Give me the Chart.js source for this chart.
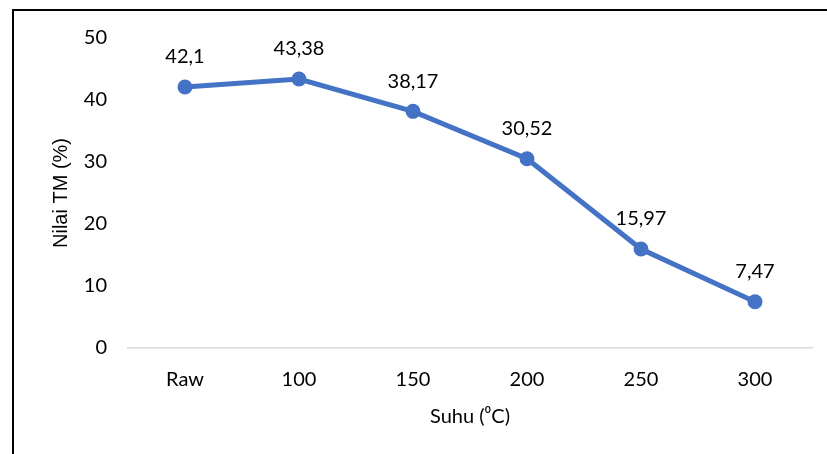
<!DOCTYPE html>
<html>
<head>
<meta charset="utf-8">
<script src="https://cdn.jsdelivr.net/npm/chart.js@4/dist/chart.umd.min.js"></script>
<style>
  html, body { margin: 0; padding: 0; background: #ffffff; }
  #wrap { width: 827px; height: 454px; }
</style>
</head>
<body>
<div id="wrap"><canvas id="c" width="827" height="454"></canvas></div>
<script>
// Suhu pemanasan dan nilai TM
const categories = ['Raw', '100', '150', '200', '250', '300'];
const nilaiTM = [42.1, 43.38, 38.17, 30.52, 15.97, 7.47];
const yTicks = [0, 10, 20, 30, 40, 50];

const BLUE = '#4472C4';
const TICK_FONT = { family: 'Lato, "Open Sans", sans-serif', size: 20 };

// Frame lines on the top and left edges
const framePlugin = {
  id: 'frame',
  beforeDraw(chart) {
    const ctx = chart.ctx;
    ctx.save();
    ctx.fillStyle = '#ffffff';
    ctx.fillRect(0, 0, chart.width, chart.height);
    ctx.strokeStyle = '#000000';
    ctx.lineWidth = 2;
    ctx.beginPath();
    ctx.moveTo(13, chart.height);
    ctx.lineTo(13, 10);
    ctx.lineTo(chart.width, 10);
    ctx.stroke();
    ctx.restore();
  }
};

// Value labels above each point, formatted with a decimal comma
const valueLabels = {
  id: 'valueLabels',
  afterDatasetsDraw(chart) {
    const ctx = chart.ctx;
    const meta = chart.getDatasetMeta(0);
    const data = chart.data.datasets[0].data;
    ctx.save();
    ctx.font = '20px Lato, "Open Sans", sans-serif';
    ctx.fillStyle = '#000000';
    ctx.textAlign = 'center';
    ctx.textBaseline = 'middle';
    meta.data.forEach((pt, i) => {
      const txt = String(data[i]).replace('.', ',');
      ctx.fillText(txt, pt.x, pt.y - 30);
    });
    ctx.restore();
  }
};

new Chart(document.getElementById('c'), {
  type: 'line',
  data: {
    labels: categories,
    datasets: [{
      data: nilaiTM,
      borderColor: BLUE,
      backgroundColor: BLUE,
      borderWidth: 5,
      pointRadius: 7.5,
      pointHoverRadius: 7.5,
      pointBackgroundColor: BLUE,
      pointBorderColor: BLUE,
      pointBorderWidth: 0,
      tension: 0,
      fill: false
    }]
  },
  options: {
    responsive: false,
    animation: false,
    devicePixelRatio: 1,
    layout: { padding: { left: 0, top: 38, right: 15, bottom: 0 } },
    plugins: {
      legend: { display: false },
      tooltip: { enabled: false }
    },
    scales: {
      x: {
        offset: true,
        grid: { display: false, drawTicks: false },
        border: { display: true, color: '#d9d9d9', width: 1.5 },
        ticks: { color: '#000000', font: TICK_FONT, padding: 20, maxRotation: 0 },
        title: {
          display: true,
          text: 'Suhu (\u2070C)',
          color: '#000000',
          font: TICK_FONT,
          padding: { top: 0, bottom: 25 }
        },
        afterFit(scale) { scale.height = 106; }
      },
      y: {
        min: 0,
        max: 50,
        afterBuildTicks(scale) { scale.ticks = yTicks.map(v => ({ value: v })); },
        grid: { display: false, drawTicks: false },
        border: { display: false },
        ticks: { color: '#000000', font: TICK_FONT, padding: 21 },
        title: {
          display: true,
          text: 'Nilai TM (%)',
          color: '#000000',
          font: { family: '"Liberation Sans", Arial, sans-serif', size: 20 },
          padding: { top: 49, bottom: 0 }
        },
        afterFit(scale) { scale.width = 128; }
      }
    }
  },
  plugins: [framePlugin, valueLabels]
});
</script>
</body>
</html>
